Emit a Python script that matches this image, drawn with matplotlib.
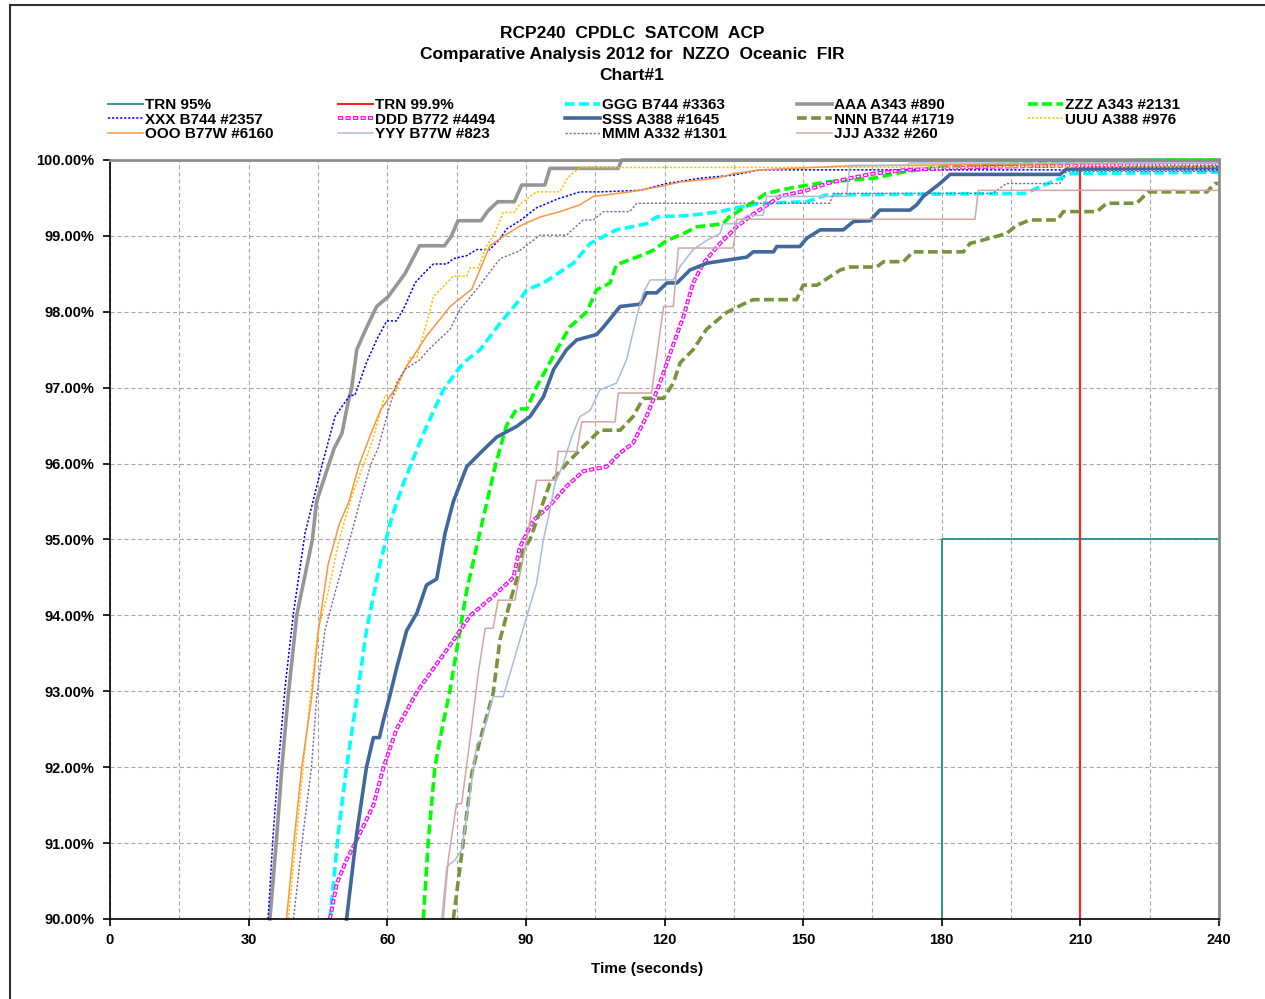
import matplotlib
matplotlib.use('Agg')
import matplotlib.pyplot as plt
from matplotlib.lines import Line2D
from matplotlib.ticker import MultipleLocator, FuncFormatter

plt.rcParams['font.family'] = ['Liberation Sans', 'DejaVu Sans']
plt.rcParams['font.weight'] = 'bold'
plt.rcParams['lines.scale_dashes'] = False

# ---- data: time (s) vs cumulative percentage ----
trn95_t = [180, 180, 240]
trn95_pct = [90.0, 95.0, 95.0]
trn999_t = [210, 210, 240]
trn999_pct = [90.0, 99.9, 99.9]

ggg_t = [47.6, 49.4, 51.2, 53.4, 55.5, 58.4, 61.0, 63.5, 67.5, 72.1, 76.5, 80.1, 84.4, 88.7, 90.2,
         93.8, 100.3, 103.9, 109.6, 116.1, 118.3, 125.5, 132.0, 134.9, 140.7, 150.8, 155.1, 198.0,
         208.0, 240]
ggg_pct = [90.0, 91.13, 92.0, 92.9, 93.8, 94.67, 95.3, 95.74, 96.35, 96.97, 97.33, 97.5, 97.85, 98.16,
           98.29, 98.38, 98.64, 98.9, 99.08, 99.16, 99.25, 99.27, 99.32, 99.36, 99.43, 99.45, 99.54,
           99.56, 99.82, 99.84]

aaa_t = [34.6, 36.1, 37.2, 38.5, 40.4, 43.8, 44.7, 48.5, 50.2, 51.5, 52.3, 53.4, 55.2, 57.7, 60.2,
         63.8, 67.0, 72.4, 73.9, 75.3, 80.3, 81.8, 83.9, 87.5, 89.1, 94.1, 95.2, 110.0, 110.7, 240]
aaa_pct = [90.0, 91.1, 92.0, 92.9, 94.0, 95.0, 95.5, 96.2, 96.4, 96.8, 97.0, 97.5, 97.75, 98.07, 98.2,
           98.5, 98.87, 98.87, 99.0, 99.2, 99.2, 99.33, 99.45, 99.45, 99.67, 99.67, 99.89, 99.89,
           100.0, 100.0]

zzz_t = [67.8, 68.9, 70.3, 71.8, 73.6, 75.4, 77.2, 79.7, 83.5, 85.8, 88.0, 90.2, 92.3, 96.7, 99.5,
         103.2, 105.3, 108.2, 109.6, 114.0, 117.6, 120.5, 124.1, 127.0, 132.7, 134.0, 138.0, 142.0,
         147.2, 155.1, 165.2, 172.4, 179.6, 197.6, 210.0, 230.0, 240]
zzz_pct = [90.0, 91.04, 92.0, 92.49, 93.02, 93.68, 94.33, 95.0, 96.0, 96.5, 96.72, 96.72, 97.01, 97.5,
           97.8, 98.0, 98.29, 98.38, 98.62, 98.72, 98.81, 98.94, 99.03, 99.12, 99.16, 99.25, 99.4,
           99.56, 99.63, 99.71, 99.76, 99.85, 99.91, 99.95, 99.98, 100.0, 100.0]

xxx_t = [34.2, 35.3, 36.4, 37.9, 39.7, 42.2, 45.8, 48.7, 51.9, 53.0, 55.5, 57.7, 59.9, 62.0, 63.8,
         66.0, 67.8, 70.0, 72.9, 74.3, 77.2, 79.4, 82.2, 84.4, 85.8, 88.7, 92.3, 97.0, 101.7, 106.0,
         114.7, 120.5, 127.7, 134.8, 140.7, 240]
xxx_pct = [90.0, 91.1, 92.0, 93.06, 94.03, 95.08, 95.96, 96.62, 96.9, 96.9, 97.33, 97.63, 97.88, 97.88,
           98.07, 98.38, 98.5, 98.63, 98.63, 98.7, 98.74, 98.82, 98.82, 98.96, 99.09, 99.2, 99.37,
           99.49, 99.58, 99.58, 99.6, 99.69, 99.76, 99.8, 99.87, 99.87]

ddd_t = [47.6, 49.1, 51.2, 54.1, 57.0, 59.2, 62.0, 66.5, 73.5, 78.0, 82.9, 87.3, 88.7, 91.6, 95.2,
         98.8, 102.4, 107.5, 110.4, 113.2, 116.1, 119.0, 121.5, 124.1, 126.2, 128.4, 132.0, 135.6,
         139.5, 145.0, 150.8, 155.1, 160.1, 165.2, 172.4, 190.0, 213.6, 240]
ddd_pct = [90.0, 90.47, 90.78, 91.13, 91.5, 92.0, 92.5, 93.0, 93.6, 94.0, 94.25, 94.5, 94.9, 95.25,
           95.45, 95.7, 95.9, 95.96, 96.14, 96.27, 96.62, 97.06, 97.5, 97.94, 98.38, 98.64, 98.9,
           99.12, 99.3, 99.52, 99.6, 99.69, 99.76, 99.82, 99.87, 99.91, 99.93, 99.94]

sss_t = [51.2, 53.4, 55.5, 57.0, 58.3, 59.1, 60.6, 62.0, 64.2, 66.4, 68.5, 70.7, 72.5, 74.3, 77.2,
         80.8, 83.7, 88.0, 90.9, 93.8, 96.0, 98.8, 101.0, 105.3, 106.8, 110.4, 114.7, 116.1, 118.3,
         120.5, 122.7, 125.5, 129.1, 133.4, 137.8, 139.2, 143.6, 144.3, 149.3, 150.8, 153.7, 158.7,
         160.9, 164.5, 166.6, 173.1, 174.6, 176.0, 179.6, 181.8, 205.6, 207.0, 240]
sss_pct = [90.0, 91.13, 92.0, 92.39, 92.39, 92.6, 92.95, 93.3, 93.8, 94.03, 94.4, 94.48, 95.08, 95.5,
           95.96, 96.18, 96.35, 96.49, 96.62, 96.88, 97.24, 97.5, 97.63, 97.7, 97.8, 98.07, 98.1,
           98.25, 98.25, 98.38, 98.38, 98.55, 98.64, 98.68, 98.72, 98.79, 98.79, 98.86, 98.86,
           98.97, 99.08, 99.08, 99.19, 99.2, 99.34, 99.34, 99.41, 99.52, 99.69, 99.81, 99.81,
           99.88, 99.9]

nnn_t = [74.3, 76.5, 78.3, 80.1, 82.9, 84.4, 86.9, 88.4, 89.4, 90.9, 95.2, 98.8, 103.2, 106.0,
         110.4, 113.2, 115.4, 119.8, 121.9, 123.4, 126.2, 129.1, 133.4, 137.0, 139.2, 148.6, 150.0,
         153.0, 158.0, 160.1, 165.9, 167.4, 171.7, 173.8, 184.7, 186.1, 190.4, 194.0, 196.2, 199.1,
         205.0, 206.3, 213.6, 215.7, 222.2, 224.7, 237.4, 239.1, 240]
nnn_pct = [90.0, 91.04, 91.92, 92.36, 92.97, 93.68, 94.25, 94.55, 94.86, 95.0, 95.74, 96.0, 96.27,
           96.44, 96.44, 96.62, 96.86, 96.86, 97.06, 97.33, 97.5, 97.77, 97.99, 98.1, 98.16, 98.16,
           98.35, 98.35, 98.55, 98.59, 98.59, 98.66, 98.66, 98.79, 98.79, 98.9, 98.97, 99.03, 99.14,
           99.21, 99.21, 99.32, 99.32, 99.43, 99.43, 99.58, 99.58, 99.69, 99.69]

uuu_t = [38.6, 40.4, 41.8, 43.3, 45.0, 47.2, 49.6, 52.5, 56.8, 59.5, 61.5, 64.9, 66.4, 68.5, 70.0,
         74.3, 77.2, 77.9, 79.7, 81.5, 83.3, 85.1, 87.5, 88.7, 92.3, 97.4, 98.8, 99.6, 101.7, 240]
uuu_pct = [90.0, 91.13, 92.0, 92.9, 93.8, 94.3, 95.0, 95.6, 96.3, 96.9, 96.9, 97.4, 97.4, 97.85, 98.2,
           98.47, 98.47, 98.58, 98.58, 98.87, 99.04, 99.31, 99.31, 99.42, 99.58, 99.58, 99.74, 99.8,
           99.9, 99.91]

ooo_t = [38.2, 40.0, 41.5, 43.6, 45.1, 47.2, 49.6, 51.7, 54.0, 56.5, 58.5, 61.5, 64.2, 68.5, 73.6,
         78.3, 80.1, 82.2, 85.8, 88.7, 93.1, 97.4, 101.7, 104.6, 112.5, 119.0, 123.4, 131.3, 134.9,
         140.7, 158.7, 200.0, 240]
ooo_pct = [90.0, 91.13, 92.0, 92.9, 93.8, 94.67, 95.2, 95.5, 96.0, 96.4, 96.7, 96.97, 97.28, 97.68,
           98.07, 98.3, 98.56, 98.87, 99.02, 99.13, 99.25, 99.32, 99.41, 99.52, 99.58, 99.65, 99.71,
           99.76, 99.82, 99.87, 99.92, 99.95, 99.96]

yyy_t = [71.8, 72.9, 74.7, 76.1, 77.5, 79.4, 80.4, 82.9, 85.1, 86.6, 89.1, 92.3, 93.8, 94.9, 96.3,
         98.1, 99.9, 101.7, 103.9, 106.0, 109.6, 111.8, 114.0, 115.4, 116.9, 121.9, 123.4, 126.2,
         129.1, 132.0, 132.7, 136.0, 137.8, 141.3, 142.1, 159.4, 160.1, 172.4, 173.0, 240]
yyy_pct = [90.0, 90.69, 90.78, 90.91, 91.48, 92.31, 92.36, 92.93, 92.93, 93.24, 93.76, 94.42, 95.0,
           95.3, 95.74, 96.0, 96.35, 96.62, 96.7, 96.97, 97.06, 97.37, 97.94, 98.25, 98.42, 98.42,
           98.6, 98.82, 98.94, 99.03, 99.16, 99.16, 99.27, 99.27, 99.52, 99.52, 99.93, 99.93, 99.96,
           99.96]

mmm_t = [39.7, 41.8, 43.6, 44.7, 46.5, 48.7, 51.0, 51.9, 54.1, 56.5, 58.0, 59.9, 62.0, 63.8, 67.1,
         68.9, 73.6, 75.7, 79.4, 81.5, 84.4, 88.5, 93.1, 98.8, 102.4, 104.6, 106.8, 112.5, 114.0,
         155.8, 156.5, 191.0, 194.0, 205.6, 207.0, 240]
mmm_pct = [90.0, 91.13, 92.0, 92.9, 93.8, 94.3, 94.8, 95.0, 95.5, 96.0, 96.2, 96.62, 97.06, 97.24,
           97.37, 97.5, 97.77, 98.03, 98.3, 98.47, 98.7, 98.8, 99.01, 99.01, 99.21, 99.21, 99.32,
           99.32, 99.43, 99.43, 99.56, 99.56, 99.69, 99.69, 99.85, 99.85]

jjj_t = [72.1, 73.2, 75.0, 76.1, 77.9, 79.7, 81.2, 82.9, 84.0, 87.6, 90.2, 92.3, 96.3, 97.0, 101.0,
         102.1, 109.3, 110.0, 117.2, 119.8, 121.9, 123.0, 134.9, 135.6, 187.2, 187.9, 240]
jjj_pct = [90.0, 90.78, 91.52, 91.52, 92.36, 93.24, 93.83, 93.83, 94.2, 94.2, 95.0, 95.78, 95.78,
           96.16, 96.16, 96.55, 96.55, 96.93, 96.93, 98.07, 98.07, 98.84, 98.84, 99.22, 99.22, 99.6,
           99.6]

x_ticks = [0, 30, 60, 90, 120, 150, 180, 210, 240]

# ---- figure ----
W, H = 1265, 999
fig = plt.figure(figsize=(W / 100, H / 100), dpi=100)
ax = fig.add_axes([110 / W, 80 / H, 1109 / W, 759 / H])

thick_dash = (0, (7.0, 3.2))
dot = (0, (1.6, 1.3))

lines = {}
lines['TRN 95%'] = ax.plot(trn95_t, trn95_pct, color='#1F8F8F', lw=1.3)[0]
lines['TRN 99.9%'] = ax.plot(trn999_t, trn999_pct, color='#FF2020', lw=1.5)[0]
lines['GGG B744 #3363'] = ax.plot(ggg_t, ggg_pct, color='#00FFFF', lw=2.6, ls=thick_dash)[0]
lines['AAA A343 #890'] = ax.plot(aaa_t, aaa_pct, color='#969696', lw=2.6)[0]
lines['ZZZ A343 #2131'] = ax.plot(zzz_t, zzz_pct, color='#00FF00', lw=2.6, ls=thick_dash)[0]
lines['XXX B744 #2357'] = ax.plot(xxx_t, xxx_pct, color='#0000FF', lw=1.1, ls=dot)[0]
d1 = ax.plot(ddd_t, ddd_pct, color='#FF00FF', lw=2.8, ls=(0, (3.8, 1.6)))[0]
d2 = ax.plot(ddd_t, ddd_pct, color='white', lw=1.1, ls=(4.7, (2.2, 3.2)))[0]
lines['DDD B772 #4494'] = (d1, d2)
lines['SSS A388 #1645'] = ax.plot(sss_t, sss_pct, color='#41689C', lw=2.6)[0]
lines['NNN B744 #1719'] = ax.plot(nnn_t, nnn_pct, color='#77933C', lw=2.6, ls=thick_dash)[0]
lines['UUU A388 #976'] = ax.plot(uuu_t, uuu_pct, color='#FFC000', lw=1.1, ls=dot)[0]
lines['OOO B77W #6160'] = ax.plot(ooo_t, ooo_pct, color='#F79646', lw=1.1)[0]
lines['YYY B77W #823'] = ax.plot(yyy_t, yyy_pct, color='#A9BCDA', lw=1.1)[0]
lines['MMM A332 #1301'] = ax.plot(mmm_t, mmm_pct, color='#8064A2', lw=1.0, ls=dot)[0]
lines['JJJ A332 #260'] = ax.plot(jjj_t, jjj_pct, color='#D4A5A3', lw=1.1)[0]

for h in lines.values():
    for ln in (h if isinstance(h, tuple) else (h,)):
        ln.set_clip_on(False)

ax.set_xlim(0, 240)
ax.set_ylim(90, 100)
ax.set_xticks(x_ticks)
ax.xaxis.set_minor_locator(MultipleLocator(15))
ax.yaxis.set_major_locator(MultipleLocator(1))
ax.yaxis.set_major_formatter(FuncFormatter(lambda v, p: '%.2f%%' % v))
ax.grid(True, which='both', axis='x', color='#A6A6A6', lw=0.8, ls=(0, (3, 2)))
ax.grid(True, which='major', axis='y', color='#A6A6A6', lw=0.8, ls=(0, (3, 2)))
ax.set_axisbelow(True)
ax.tick_params(which='major', direction='out', length=5, width=1.2, labelsize=10.5, pad=5)
ax.tick_params(axis='y', pad=6)
ax.tick_params(which='minor', length=0)
for s in ('left', 'bottom'):
    ax.spines[s].set_color('black')
    ax.spines[s].set_linewidth(1.2)
for s in ('top', 'right'):
    ax.spines[s].set_color('#8C8C8C')
    ax.spines[s].set_linewidth(2)

# titles
fig.text(632 / W, 1 - 33 / H, 'RCP240  CPDLC  SATCOM  ACP', ha='center', va='center', fontsize=12.5)
fig.text(632 / W, 1 - 54 / H, 'Comparative Analysis 2012 for  NZZO  Oceanic  FIR', ha='center',
         va='center', fontsize=12.5)
fig.text(632 / W, 1 - 75 / H, 'Chart#1', ha='center', va='center', fontsize=12.5)
fig.text(647 / W, 1 - 969 / H, 'Time (seconds)', ha='center', va='center', fontsize=11)

# legend, one block per column
columns = [['TRN 95%', 'XXX B744 #2357', 'OOO B77W #6160'],
           ['TRN 99.9%', 'DDD B772 #4494', 'YYY B77W #823'],
           ['GGG B744 #3363', 'SSS A388 #1645', 'MMM A332 #1301'],
           ['AAA A343 #890', 'NNN B744 #1719', 'JJJ A332 #260'],
           ['ZZZ A343 #2131', 'UUU A388 #976']]
col_x = [108, 338, 565, 797, 1028]
for names, cx in zip(columns, col_x):
    fig.legend([lines[n] for n in names], names, loc='upper left',
               bbox_to_anchor=(cx / W, 1 - 98 / H), frameon=False, fontsize=11,
               handlelength=2.3, handletextpad=0.1, labelspacing=0.04,
               borderpad=0, borderaxespad=0)

# outer frame of the chart object
fig.add_artist(Line2D([10 / W, 10 / W], [0, 1 - 5 / H], transform=fig.transFigure,
                      color='#303030', lw=1.5))
fig.add_artist(Line2D([10 / W, 1], [1 - 5 / H, 1 - 5 / H], transform=fig.transFigure,
                      color='#303030', lw=1.5))

fig.savefig('out.png', dpi=100)
